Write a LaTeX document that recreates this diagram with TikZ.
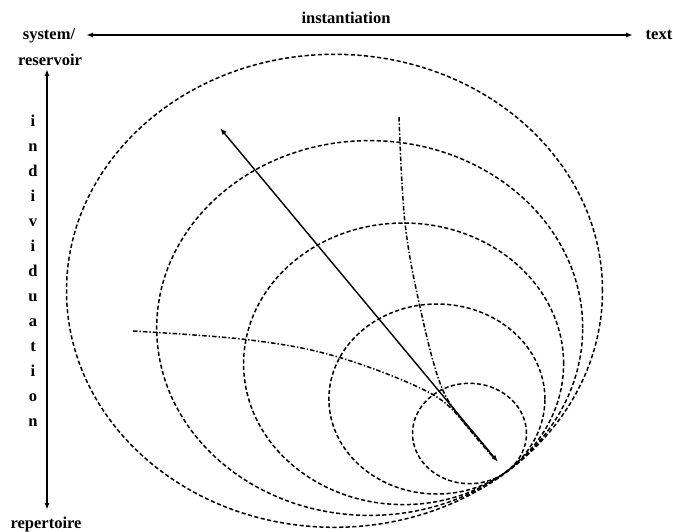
\documentclass[tikz,border=0pt]{standalone}
\usepackage{fontspec}
\setmainfont{Liberation Serif}
\usetikzlibrary{arrows.meta}
\begin{document}
\begin{tikzpicture}[x=1pt,y=-1pt,
  lab/.style={font=\fontsize{16.5}{18}\selectfont\bfseries, anchor=base, inner sep=0pt},
  ell/.style={draw=black, line width=1.5pt, dash pattern=on 4.2pt off 2.4pt},
  dd/.style={draw=black, line width=1.5pt, dash pattern=on 4.5pt off 2pt on 1.4pt off 2pt},
  axis/.style={draw=black, line width=1.4pt, {Latex[length=7pt,width=5pt]}-{Latex[length=7pt,width=5pt]}}]
\useasboundingbox (0,0) rectangle (673,531);
% labels
\node[lab] (inst) at (346,23) {instantiation};
\node[lab] (sys) at (49,39) {system/};
\node[lab] (res) at (50,65) {reservoir};
\node[lab] (txt) at (659,39) {text};
\node[lab] (rep) at (46,528) {repertoire};
\foreach \l [count=\i from 0] in {i,n,d,i,v,i,d,u,a,t,i,o,n}
  \node[lab] (ind\i) at (33,{126+25*\i}) {\l};
% axes
\coordinate (hL) at (86,35);
\coordinate (hR) at (633,35);
\coordinate (vT) at (47,69);
\coordinate (vB) at (47,510);
\draw[axis] (hL) -- (hR);
\draw[axis] (vT) -- (vB);
% nested ellipses tangent at a common point
\coordinate (c1) at (469.5,433.5);
\coordinate (c2) at (436.9,399);
\coordinate (c3) at (403.6,363.8);
\coordinate (c4) at (369.7,328);
\coordinate (c5) at (334.5,290.8);
\draw[ell] (c1) ellipse [x radius=57pt, y radius=50.2pt];
\draw[ell] (c2) ellipse [x radius=108pt, y radius=95pt];
\draw[ell] (c3) ellipse [x radius=160pt, y radius=140.8pt];
\draw[ell] (c4) ellipse [x radius=213pt, y radius=187.4pt];
\draw[ell] (c5) ellipse [x radius=268pt, y radius=236.5pt];
% dash-dot curves
\draw[dd] plot[smooth, tension=0.6] coordinates {(133,331) (250,340) (338,357) (430,393) (468,427) (494,458)};
\draw[dd] plot[smooth, tension=0.6] coordinates {(399,117) (405,223) (420,307) (440,383) (462,420) (494,458)};
% diagonal arrow
\coordinate (aT) at (220,128);
\coordinate (aB) at (498,462);
\draw[axis] (aT) -- (aB);
\end{tikzpicture}
\end{document}
